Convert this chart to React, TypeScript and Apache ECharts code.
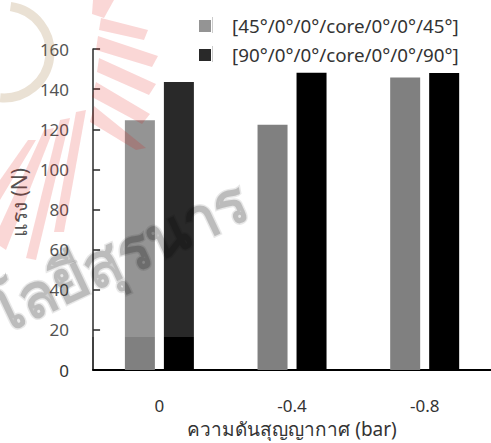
import React, { useEffect, useRef } from "react";
import * as echarts from "echarts";

// Vacuum pressure levels (bar)
const categories = ["0", "-0.4", "-0.8"];
// Peak force (N) per layup
const seriesNames = ["[45°/0°/0°/core/0°/0°/45°]", "[90°/0°/0°/core/0°/0°/90°]"];
const force45 = [124.5, 122.3, 145.8];
const force90 = [143.5, 148.2, 148.0];
const yTicks = { min: 0, max: 160, interval: 20 };

const FONT = "'Noto Sans', 'DejaVu Sans', sans-serif";

// Faint university watermark: pink rays, beige emblem ring and grey lettering
const pinkRays: number[][][] = [
  [[93, 0], [114, 0], [104, 18], [92, 14]],
  [[101, 18], [148, 30], [144, 40], [99, 30]],
  [[98, 36], [158, 56], [152, 67], [96, 50]],
  [[99, 58], [156, 84], [149, 95], [97, 72]],
  [[96, 82], [150, 114], [142, 124], [92, 97]],
  [[94, 106], [146, 148], [136, 150], [90, 122]],
  [[86, 110], [64, 232], [54, 232], [76, 112]],
  [[70, 118], [36, 260], [26, 258], [60, 120]],
  [[54, 128], [6, 250], [0, 246], [0, 226], [44, 130]],
  [[36, 140], [0, 200], [0, 180], [28, 140]],
];
const watermarkText = "โลยีสุรนาร";

export default function App() {
  const ref = useRef<HTMLDivElement>(null);

  useEffect(() => {
    if (!ref.current) return;
    const chart = echarts.init(ref.current, undefined, { renderer: "svg" });

    // translucent tints darken whatever lies beneath, like ink on paper
    const rayGraphics = pinkRays.map((pts) => ({
      type: "polygon",
      z: 101,
      shape: { points: pts },
      style: { fill: "rgba(222,5,0,0.16)" },
      silent: true,
    }));

    chart.setOption({
      animation: false,
      backgroundColor: "#ffffff",
      textStyle: { fontFamily: FONT },
      grid: { left: 92, top: 49, width: 403, height: 323, containLabel: false },
      legend: {
        orient: "vertical",
        left: 194,
        top: 11,
        itemWidth: 12,
        itemHeight: 12,
        itemGap: 9,
        icon: "rect",
        textStyle: {
          fontSize: 18.8,
          color: "#333333",
          lineHeight: 20,
          padding: [0, 0, 0, 16],
          fontFamily: FONT,
        },
        data: seriesNames,
      },
      xAxis: {
        type: "category",
        data: categories,
        axisLine: { show: true, lineStyle: { color: "#000", width: 2 } },
        axisTick: { show: false },
        axisLabel: { fontSize: 17, color: "#333333", margin: 27, fontFamily: FONT },
        name: "ความดันสุญญากาศ (bar)",
        nameLocation: "middle",
        nameGap: 47,
        nameTextStyle: { fontSize: 19, color: "#333333", fontFamily: FONT },
      },
      yAxis: {
        type: "value",
        min: yTicks.min,
        max: yTicks.max,
        interval: yTicks.interval,
        axisLine: { show: true, lineStyle: { color: "#000", width: 1.5 } },
        axisTick: { show: true, inside: true, length: 7, lineStyle: { color: "#000", width: 1.5 } },
        splitLine: { show: false },
        axisLabel: { fontSize: 17, color: "#333333", margin: 24, fontFamily: FONT },
        name: "แรง (N)",
        nameLocation: "middle",
        nameRotate: 90,
        nameGap: 59,
        nameTextStyle: { fontSize: 21, color: "#333333", fontFamily: FONT, padding: [0, 0, 0, 14] },
      },
      series: [
        {
          name: seriesNames[0],
          type: "bar",
          data: force45,
          barWidth: 30,
          barGap: "30%",
          itemStyle: { color: "#808080" },
        },
        {
          name: seriesNames[1],
          type: "bar",
          data: force90,
          barWidth: 30,
          itemStyle: { color: "#000000" },
        },
      ],
      graphic: [
        // white haze of the watermark image
        {
          type: "rect",
          z: 100,
          silent: true,
          shape: { x: 0, y: 0, width: 212, height: 337 },
          style: { fill: "rgba(255,255,255,0.16)" },
        },
        // thin separators beside the legend swatches
        {
          type: "line",
          z: 100,
          shape: { x1: 212.5, y1: 17, x2: 212.5, y2: 33 },
          style: { stroke: "#cccccc", lineWidth: 1 },
        },
        {
          type: "line",
          z: 100,
          shape: { x1: 212.5, y1: 46, x2: 212.5, y2: 62 },
          style: { stroke: "#cccccc", lineWidth: 1 },
        },
        ...rayGraphics,
        {
          type: "arc",
          z: 101,
          silent: true,
          shape: { cx: 4, cy: 52, r: 46, startAngle: -Math.PI / 2.2, endAngle: Math.PI / 1.9 },
          style: { stroke: "rgba(160,120,60,0.22)", lineWidth: 9, fill: "none" },
        },
        {
          type: "text",
          z: 102,
          silent: true,
          x: 3,
          y: 342,
          rotation: 0.44,
          style: {
            text: watermarkText,
            fontSize: 60,
            fontWeight: 900,
            fill: "rgba(0,0,0,0.19)",
            stroke: "rgba(0,0,0,0.09)",
            lineWidth: 3,
            textVerticalAlign: "bottom",
            fontFamily: FONT,
          },
        },
      ],
    });

    return () => chart.dispose();
  }, []);

  return (
    <div
      ref={ref}
      style={{ position: "absolute", left: 0, top: 0, width: 491, height: 443 }}
    />
  );
}
